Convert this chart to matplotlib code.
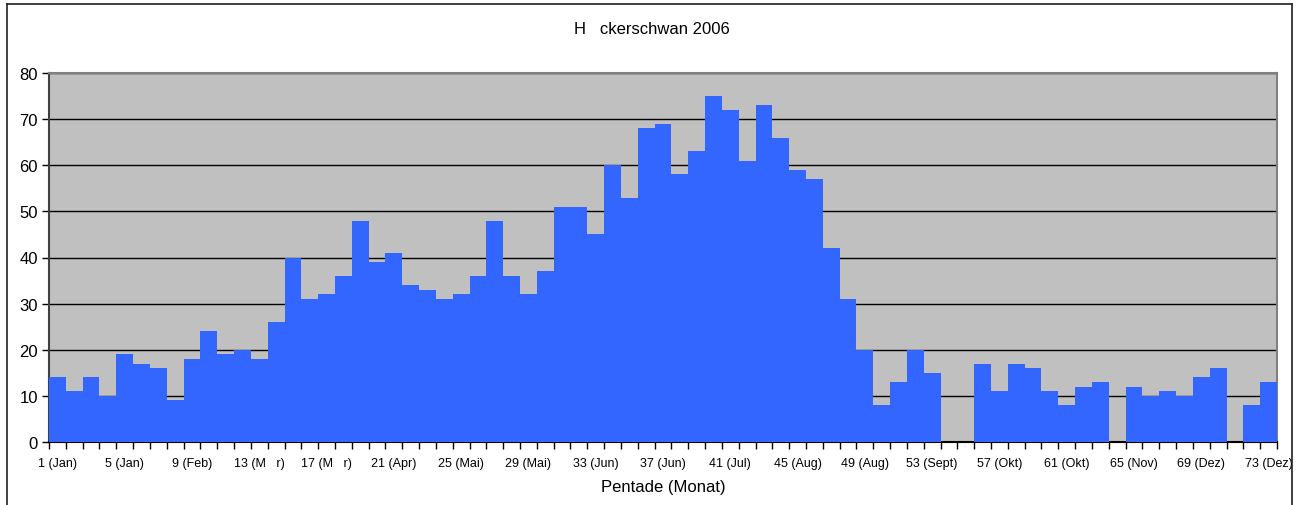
import matplotlib
matplotlib.use("Agg")
import matplotlib.pyplot as plt
from matplotlib.lines import Line2D
import numpy as np

plt.rcParams['font.family'] = ['Liberation Sans', 'DejaVu Sans']

title = "H   ckerschwan 2006"
xlabel = "Pentade (Monat)"
pentades = list(range(1, 74))
counts = [14, 11, 14, 10, 19, 17, 16, 9, 18, 24,
          19, 20, 18, 26, 40, 31, 32, 36, 48, 39,
          41, 34, 33, 31, 32, 36, 48, 36, 32, 37,
          51, 51, 45, 60, 53, 68, 69, 58, 63, 75,
          72, 61, 73, 66, 59, 57, 42, 31, 20, 8,
          13, 20, 15, 0, 0, 17, 11, 17, 16, 11,
          8, 12, 13, 0, 12, 10, 11, 10, 14, 16,
          0, 8, 13]
tick_pentades = [1, 5, 9, 13, 17, 21, 25, 29, 33, 37, 41, 45, 49, 53, 57, 61, 65, 69, 73]
tick_labels = ["1 (Jan)", "5 (Jan)", "9 (Feb)", "13 (M   r)", "17 (M   r)", "21 (Apr)",
               "25 (Mai)", "29 (Mai)", "33 (Jun)", "37 (Jun)", "41 (Jul)", "45 (Aug)",
               "49 (Aug)", "53 (Sept)", "57 (Okt)", "61 (Okt)", "65 (Nov)", "69 (Dez)",
               "73 (Dez)"]

W, H = 1303, 506
fig = plt.figure(figsize=(W / 100, H / 100), dpi=100)
fig.patch.set_facecolor('white')

ax = fig.add_axes([49 / W, (H - 443) / H, (1277 - 49) / W, (443 - 74) / H])
ax.set_facecolor('#C0C0C0')

x = np.arange(len(pentades))
ax.bar(x, counts, width=1.0, color='#3366FF', edgecolor='none', zorder=3)

ax.set_xlim(-0.5, len(pentades) - 0.5)
ax.set_ylim(0, 80)
ax.set_yticks(np.arange(0, 81, 10))
ax.yaxis.grid(True, color='black', linewidth=1.0, zorder=1)
ax.set_axisbelow(True)

tick_pos = [pentades.index(p) for p in tick_pentades]
ax.set_xticks(tick_pos)
ax.set_xticklabels(tick_labels, fontsize=9)
ax.tick_params(axis='x', which='major', length=0, pad=11)
ax.set_xticks(np.arange(-0.5, len(pentades), 1.0), minor=True)
ax.tick_params(axis='x', which='minor', length=5, width=1, color='black', direction='out')
ax.tick_params(axis='y', length=5, width=1, color='black', labelsize=12, pad=3)

for s in ['top', 'right']:
    ax.spines[s].set_color('#808080')
    ax.spines[s].set_linewidth(1.5)
ax.spines['left'].set_color('#404040')
ax.spines['left'].set_linewidth(1.5)
ax.spines['bottom'].set_color('black')
ax.spines['bottom'].set_linewidth(1.5)

ax.set_xlabel(xlabel, fontsize=12, labelpad=7)
fig.text(651.5 / W, 1 - 29 / H, title, ha='center', va='center', fontsize=12)

# outer chart frame
fig.add_artist(Line2D([7 / W, 7 / W], [0, 1 - 5 / H], color='#202020', linewidth=1.2))
fig.add_artist(Line2D([7 / W, 1292 / W], [1 - 5 / H, 1 - 5 / H], color='#202020', linewidth=1.2))
fig.add_artist(Line2D([1292 / W, 1292 / W], [0, 1 - 5 / H], color='#202020', linewidth=1.2))

fig.savefig('out.png', dpi=100, facecolor='white')
